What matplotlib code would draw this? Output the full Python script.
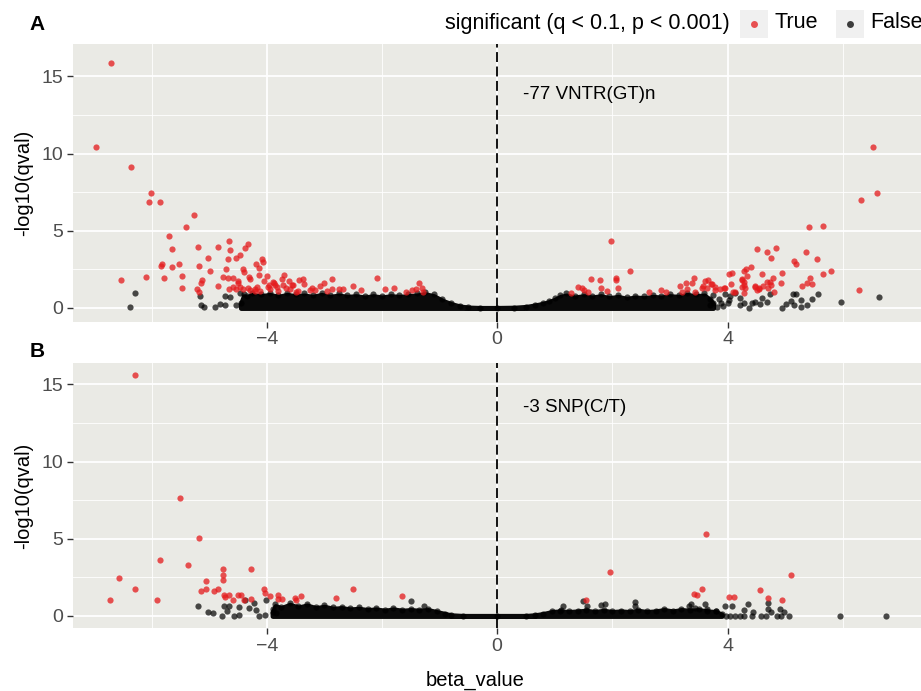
import numpy as np
import matplotlib
matplotlib.use('Agg')
import matplotlib.pyplot as plt
from matplotlib.patches import Rectangle
from matplotlib.lines import Line2D

plt.rcParams['font.family'] = ['Liberation Sans', 'DejaVu Sans']

# ---- panel A: -77 VNTR(GT)n ----
a_sig_x = [-6.70, -6.97, -6.35, -6.01, -6.05, -5.85, -5.26, -5.40, -5.70, -5.64, -5.19, -4.85, -4.65, -4.64,
           -4.32, -4.37, -4.46, -4.53, -4.68, -5.02, -5.82, -5.84, -5.64, -5.53, -5.17, -4.98, -4.71, -4.09,
           -4.06, -4.19, -4.14, -4.42, -4.40, -6.53, -6.09, -5.79, -5.47, -5.48, -5.12, -5.14, -5.21, -5.17,
           -4.84, -4.76, -4.68, -4.58, -4.50, -4.50, -4.31, -4.30, -4.13, -4.00, -4.05, -4.65, -4.58, -4.54,
           -4.47, -4.41, -4.32, -4.21, -4.17, -4.12, -3.98, -3.89, -3.82, -3.74, -3.70, -3.66, -3.57, -3.61,
           -3.44, -3.37, -3.88, -3.97, -3.85, -3.71, -3.55, -3.35, -2.87, -3.01, -3.08, -3.22, -3.16, -2.51,
           -2.37, -2.87, -2.75, -2.68, -2.09, -1.94, -1.79, -1.59, -1.48, -1.41, -1.31, -1.35, -1.29, -4.30,
           -4.20, -3.95, -3.80, -3.60, -3.45, -3.25, -3.50, -2.95,
           1.97, 2.31, 1.63, 1.79, 2.06, 2.06, 2.09, 1.40, 1.48, 1.50, 1.57, 1.81, 1.90, 1.28, 2.64, 2.84,
           2.93, 3.18, 3.28, 3.38, 3.41, 3.21, 3.29, 3.44, 3.55, 3.61, 3.67, 3.58, 3.72, 3.78, 3.78, 3.87,
           3.95, 4.03, 4.07, 4.06, 4.13, 4.25, 4.28, 4.26, 4.32, 4.29, 4.33, 4.41, 4.51, 4.48, 4.54, 6.52,
           6.59, 6.32, 5.42, 5.65, 4.85, 4.68, 4.75, 5.36, 5.16, 5.19, 5.55, 4.60, 4.95, 5.79, 5.65, 5.43,
           5.38, 5.47, 5.29, 4.93, 6.28, 4.25, 4.28, 4.31, 4.48, 4.54, 4.62, 4.68, 4.73, 4.75, 4.79, 4.71,
           4.81, 4.51, 3.64, 3.73, 3.94, 4.10, 4.28]
a_sig_y = [15.88, 10.44, 9.11, 7.44, 6.88, 6.88, 6.02, 5.24, 4.66, 3.84, 3.95, 3.95, 4.34, 3.75,
           4.14, 3.86, 3.45, 3.21, 3.19, 3.24, 2.87, 2.72, 2.63, 2.87, 2.74, 2.42, 2.50, 3.19,
           3.00, 2.87, 2.61, 2.50, 2.31, 1.79, 2.03, 1.92, 2.09, 1.31, 1.83, 1.62, 1.21, 1.04,
           1.40, 1.99, 1.96, 1.92, 1.77, 1.60, 1.99, 1.86, 2.16, 2.09, 1.77, 1.25, 1.38, 1.20,
           1.34, 1.21, 1.27, 1.21, 1.38, 1.12, 1.38, 1.66, 1.34, 1.86, 2.16, 1.27, 1.49, 1.77,
           1.81, 1.90, 1.64, 1.50, 1.50, 1.50, 1.48, 1.52, 1.90, 1.64, 1.42, 1.31, 1.16, 1.42,
           1.16, 1.25, 1.22, 1.25, 1.92, 1.21, 1.31, 1.06, 1.16, 1.25, 1.28, 1.64, 1.06, 1.15,
           1.10, 1.20, 1.10, 1.20, 1.10, 1.15, 1.05, 1.10,
           4.36, 2.41, 1.88, 1.81, 1.96, 1.81, 1.27, 1.34, 1.31, 1.16, 1.02, 1.27, 1.12, 0.95, 1.04, 1.16,
           1.06, 1.42, 1.64, 1.60, 1.96, 1.06, 1.21, 1.06, 1.27, 1.77, 1.81, 1.42, 1.55, 1.38, 1.16, 1.21,
           1.31, 2.20, 2.29, 1.55, 1.06, 1.38, 1.70, 1.86, 2.50, 2.39, 2.07, 2.63, 3.82, 1.38, 1.21, 10.44,
           7.46, 6.99, 5.26, 5.31, 3.86, 3.60, 3.24, 3.62, 3.04, 2.85, 3.15, 2.18, 2.29, 2.42, 2.18, 1.92,
           1.60, 1.55, 1.42, 1.60, 1.16, 1.81, 1.49, 1.31, 1.44, 1.27, 1.44, 1.70, 1.66, 1.49, 1.92, 1.27,
           1.06, 1.16, 1.27, 1.55, 1.31, 1.06, 0.95]

a_ns_x = [-6.28, -6.38, -5.16, -5.15, -5.09, -4.90, -4.81, -4.72, -4.64, -4.73, -4.53, -4.47,
          5.13, 5.19, 5.10, 5.01, 4.94, 5.16, 5.28, 5.28, 5.38, 5.46, 5.57, 5.97, 6.63, 4.74, 4.68,
          4.60, 4.57, 4.48, 4.38, 4.42, 4.22, 4.13, 4.21, 4.28, 3.75, 3.85, 3.95, 4.00, 4.05, 3.70,
          3.82, 3.92, 4.02, 3.88]
a_ns_y = [0.95, 0.04, 0.78, 0.19, 0.04, 0.08, 0.26, 0.78, 0.69, 0.19, 0.19, 0.95,
          0.88, 0.88, 0.47, 0.24, 0.02, 0.19, 0.50, 0.08, 0.17, 0.56, 0.91, 0.41, 0.69, 0.91, 0.41,
          0.63, 0.26, 0.41, 0.02, 0.30, 0.19, 0.95, 0.67, 0.34, 0.85, 0.60, 0.90, 0.30, 0.75, 0.20,
          0.05, 0.15, 0.50, 0.35]

# upper edge of the dense cloud of non-significant loci
a_band_x = [-4.45, -4.40, -4.35, -4.25, -4.10, -3.95, -3.80, -3.65, -3.50, -3.35, -3.20, -3.05, -2.90,
            -2.75, -2.60, -2.45, -2.30, -2.15, -2.00, -1.85, -1.70, -1.55, -1.40, -1.25, -1.10, -0.95,
            -0.80, -0.65, -0.50, -0.30, 0.00, 0.30, 0.50, 0.65, 0.80, 0.90, 1.00, 1.10, 1.20, 1.35, 1.50,
            1.65, 1.80, 1.95, 2.10, 2.25, 2.40, 2.55, 2.70, 2.85, 3.00, 3.15, 3.30, 3.45, 3.60, 3.70, 3.75]
a_band_top = [0.30, 0.90, 0.80, 1.00, 0.90, 1.00, 0.85, 1.00, 0.90, 0.95, 0.85, 1.00, 0.85,
              0.95, 0.85, 0.90, 0.80, 0.90, 0.80, 0.90, 0.85, 0.90, 0.95, 1.05, 0.90, 0.55,
              0.30, 0.12, 0.03, 0.00, 0.00, 0.02, 0.08, 0.19, 0.32, 0.45, 0.62, 0.85, 0.95, 0.80, 0.90,
              0.80, 0.90, 0.75, 0.85, 0.70, 0.80, 0.75, 0.85, 0.80, 0.90, 0.85, 1.00, 0.90, 0.95, 0.60, 0.30]

# ---- panel B: -3 SNP(C/T) ----
b_sig_x = [-6.28, -5.51, -5.18, -5.86, -5.36, -6.57, -6.28, -6.73, -5.90, -4.76, -4.76, -4.76, -4.27,
           -5.06, -5.15, -5.06, -4.91, -4.85, -4.75, -4.66, -4.72, -4.59, -4.50, -4.44, -4.05, -4.03,
           -3.95, -3.80, -3.81, -3.74, -3.51, -3.50, -3.40, -4.40, -4.28, -2.80, -2.51, -1.65,
           1.96, 1.54, 3.41, 3.47, 3.55, 3.62, 4.03, 4.11, 4.57, 4.70, 4.94, 5.11]
b_sig_y = [15.60, 7.64, 5.07, 3.60, 3.28, 2.48, 1.75, 1.04, 1.04, 3.02, 2.67, 2.33, 3.06,
           2.27, 1.64, 1.73, 1.60, 1.73, 1.38, 1.38, 1.25, 1.04, 1.38, 1.38, 1.73, 1.47,
           1.29, 1.38, 1.12, 1.12, 1.17, 1.04, 1.29, 1.04, 1.08, 1.14, 1.73, 1.29,
           2.87, 1.04, 1.40, 1.38, 1.73, 5.33, 1.21, 1.25, 1.70, 1.14, 1.04, 2.67]

b_ns_x = [-5.20, -5.02, -4.94, -4.78, -4.75, -4.65, -4.69, -4.57, -4.49, -4.48, -4.37, -4.31, -4.22,
          -4.19, -4.13, -4.03, -4.01, -3.90, -3.84, -1.49, -1.27,
          5.95, 6.75, 5.06, 4.93, 4.86, 4.66, 4.59, 4.42, 4.28, 4.22, 4.13, 4.05, 3.97, 4.98, 4.92, 4.70,
          4.70, 4.36, 4.28, 4.08, 3.96, 3.65, 3.61, 3.43, 3.33, 3.36, 2.40, 2.40, 1.88, 1.81, 1.49, 1.56,
          1.15, 1.11, 4.75, 4.45, 3.80]
b_ns_y = [0.63, 0.24, 0.17, 0.02, 0.67, 0.67, 0.34, 0.00, 0.04, 0.56, 1.04, 0.50, 0.82,
          0.39, 0.00, 0.04, 1.04, 0.43, 0.17, 0.99, 0.65,
          0.00, 0.00, 0.02, 0.02, 0.02, 0.02, 0.02, 0.02, 0.02, 0.02, 0.02, 0.02, 0.02, 0.28, 0.43, 0.43,
          0.86, 0.78, 0.39, 0.67, 0.67, 0.45, 0.76, 0.50, 0.67, 0.76, 0.93, 0.65, 0.78, 0.71, 0.97, 0.65,
          0.65, 0.39, 0.26, 0.26, 0.30]

b_band_x = [-3.90, -3.85, -3.75, -3.60, -3.45, -3.30, -3.15, -3.00, -2.85, -2.70, -2.55, -2.40, -2.25,
            -2.10, -1.95, -1.80, -1.65, -1.50, -1.35, -1.20, -1.05, -0.90, -0.80, -0.60, 0.00, 0.50, 0.65,
            0.80, 0.95, 1.10, 1.25, 1.40, 1.55, 1.70, 1.85, 2.00, 2.15, 2.30, 2.45, 2.60, 2.75, 2.90, 3.05,
            3.20, 3.35, 3.50, 3.65, 3.80, 3.90]
b_band_top = [0.25, 0.75, 0.60, 0.85, 0.65, 0.80, 0.60, 0.70, 0.55, 0.60, 0.50, 0.55, 0.45,
              0.50, 0.40, 0.50, 0.40, 0.45, 0.40, 0.45, 0.30, 0.15, 0.05, 0.00, 0.00, 0.00, 0.05,
              0.15, 0.30, 0.35, 0.30, 0.35, 0.40, 0.30, 0.40, 0.30, 0.35, 0.30, 0.40, 0.30, 0.35, 0.45, 0.35,
              0.45, 0.40, 0.45, 0.35, 0.30, 0.10]

panels = [
    dict(sig_x=a_sig_x, sig_y=a_sig_y, ns_x=a_ns_x, ns_y=a_ns_y, band_x=a_band_x, band_top=a_band_top,
         label='-77 VNTR(GT)n', label_y=13.8, ylim=(-0.89, 17.1), letter='A'),
    dict(sig_x=b_sig_x, sig_y=b_sig_y, ns_x=b_ns_x, ns_y=b_ns_y, band_x=b_band_x, band_top=b_band_top,
         label='-3 SNP(C/T)', label_y=13.5, ylim=(-0.8, 16.4), letter='B'),
]

BG = '#EAEAE5'
RED = '#E41A1C'
W, H = 921, 691

fig = plt.figure(figsize=(W / 100, H / 100), dpi=100)
boxes = [(73.3, 44, 321.7), (73.3, 362.7, 628.3)]

for p, (left, top, bottom) in zip(panels, boxes):
    ax = fig.add_axes([left / W, 1 - bottom / H, 1 - left / W, (bottom - top) / H])
    ax.set_facecolor(BG)
    for s in ax.spines.values():
        s.set_visible(False)
    ax.set_xlim(-7.36, 7.36)
    ax.set_ylim(*p['ylim'])
    ax.set_xticks([-4, 0, 4])
    ax.set_xticks([-6, -2, 2, 6], minor=True)
    ax.set_yticks([0, 5, 10, 15])
    ax.set_yticks([2.5, 7.5, 12.5], minor=True)
    ax.grid(which='major', color='white', lw=1.3, zorder=0)
    ax.grid(which='minor', color='white', lw=0.6, zorder=0)
    ax.set_axisbelow(True)
    ax.tick_params(which='major', direction='out', length=4, width=1, color='#333333',
                   labelsize=14, labelcolor='#4D4D4D', pad=3)
    ax.tick_params(which='minor', length=0)

    # dense cloud of non-significant loci
    top_fill = [0.85 * t for t in p['band_top']]
    ax.fill_between(p['band_x'], 0, top_fill, facecolor='#0A0A0A', edgecolor='#0A0A0A',
                    lw=3.6, joinstyle='round', capstyle='round', zorder=2)
    ax.scatter(p['band_x'], p['band_top'], s=20, color='black', alpha=0.7, lw=0, zorder=3)
    ax.scatter(p['ns_x'], p['ns_y'], s=20, color='black', alpha=0.7, lw=0, zorder=3)
    ax.scatter(p['sig_x'], p['sig_y'], s=20, color=RED, alpha=0.75, lw=0, zorder=4)

    ax.axvline(0, color='black', lw=1.3, ls=(0, (5.5, 2.5)), zorder=5)
    ax.text(0.45, p['label_y'], p['label'], fontsize=13.5, va='center', ha='left', zorder=6)

    ax.set_ylabel('-log10(qval)', fontsize=14.5)
    ax.yaxis.set_label_coords(-0.047, 0.5)
    fig.text(37 / W, 1 - (25 if p['letter'] == 'A' else 352) / H, p['letter'],
             fontsize=15, fontweight='bold', ha='center', va='center')

fig.text(475 / W, 1 - 680 / H, 'beta_value', fontsize=14.5, ha='center', va='center')

# legend
fig.text(730 / W, 1 - 23 / H, 'significant (q < 0.1, p < 0.001)', fontsize=15.5,
         ha='right', va='center')
for x0, col, name in [(740, RED, 'True'), (836, 'black', 'False')]:
    fig.add_artist(Rectangle((x0 / W, 1 - 38 / H), 28 / W, 28 / H, transform=fig.transFigure,
                             facecolor='#F0F0F0', edgecolor='none'))
    fig.add_artist(Line2D([(x0 + 14) / W], [1 - 24 / H], transform=fig.transFigure, marker='o',
                          markersize=5, markerfacecolor=col, markeredgewidth=0, alpha=0.75))
    fig.text((x0 + 34) / W, 1 - 23 / H, name, fontsize=15.5, ha='left', va='center')

fig.savefig('out.png', dpi=100)
